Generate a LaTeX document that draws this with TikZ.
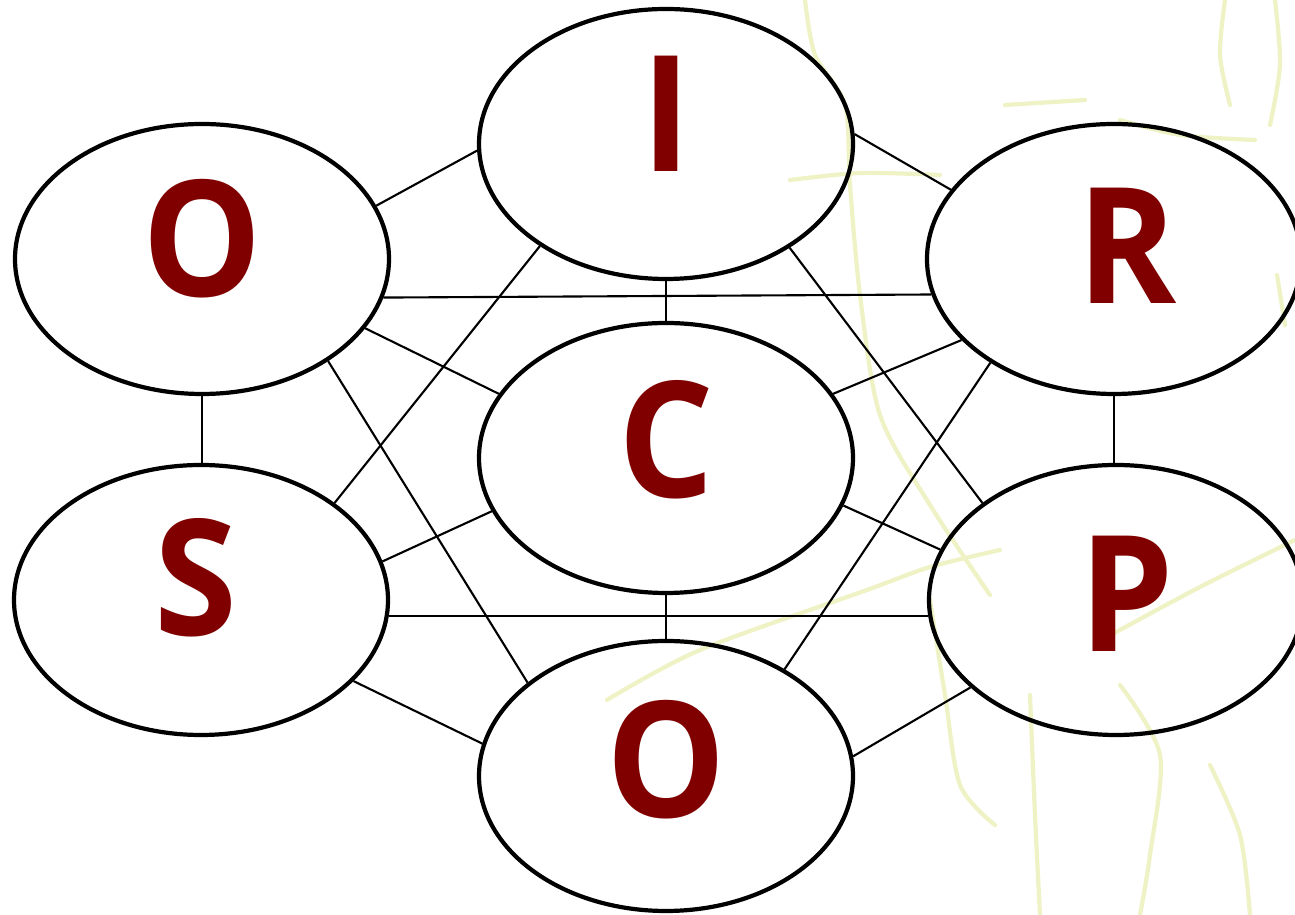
\documentclass[tikz,border=0pt]{standalone}
\usepackage{fontspec}
\newfontfamily\lettrfont[FakeStretch=0.93]{Open Sans}
\usetikzlibrary{shapes.geometric}
\definecolor{maroon}{RGB}{128,0,0}
\definecolor{sketch}{RGB}{238,242,196}

\begin{document}
\begin{tikzpicture}
		\useasboundingbox (0,0) rectangle (12.95,9.15);
		% faint pencil sketch in the background
		\begin{scope}[every path/.style={draw=sketch, line width=1.2pt, line cap=round}]
			\draw plot[smooth] coordinates {(8.05,9.15) (8.15,8.6) (8.45,8.1) (8.5,7.3) (8.6,6.2) (8.8,5.0) (9.3,4.1) (9.9,3.2)};
			\draw plot[smooth] coordinates {(7.9,7.35) (8.6,7.42) (9.4,7.4)};
			\draw (10.05,8.1) -- (10.85,8.15);
			\draw plot[smooth] coordinates {(11.2,7.95) (11.8,7.8) (12.55,7.75)};
			\draw plot[smooth] coordinates {(12.25,9.15) (12.2,8.6) (12.3,8.1)};
			\draw plot[smooth] coordinates {(12.75,9.15) (12.8,8.5) (12.7,7.9)};
			\draw (12.77,6.4) -- (12.85,5.9);
			\draw plot[smooth] coordinates {(6.07,2.15) (7.0,2.65) (8.67,3.25) (9.3,3.48) (10.0,3.65)};
			\draw plot[smooth] coordinates {(11.07,2.78) (12.0,3.28) (12.95,3.75)};
			\draw plot[smooth] coordinates {(9.3,3.15) (9.45,2.2) (9.6,1.3) (9.95,0.9)};
			\draw plot[smooth] coordinates {(10.3,2.2) (10.35,1.0) (10.4,0)};
			\draw plot[smooth] coordinates {(11.2,2.3) (11.6,1.6) (11.5,0.6) (11.4,0)};
			\draw plot[smooth] coordinates {(12.1,1.5) (12.4,0.8) (12.5,0)};
		\end{scope}
		\begin{scope}[every node/.style={draw, ellipse, line width=1.2pt, minimum width=3.74cm, minimum height=2.70cm, inner sep=0pt},
			every label/.style={draw=none, rectangle, minimum size=0pt, inner sep=0pt, text=maroon, font=\lettrfont\bfseries\fontsize{46}{50}\selectfont}]
			\node (O1)[label={[yshift=2mm]center:O}] at (2.02,6.56) {};
			\node (I)[label={[yshift=3mm]center:I}] at (6.66,7.71) {};
			\node (R)[label={[xshift=1.3mm, yshift=1.3mm]center:R}] at (11.14,6.56) {};
			\node (S)[label={[xshift=-0.5mm, yshift=2.2mm]center:S}] at (2.01,3.15) {};
			\node (C)[label={[yshift=1.8mm]center:C}] at (6.66,4.57) {};
			\node (P)[label={[xshift=1.1mm, yshift=0.6mm]center:P}] at (11.16,3.15) {};
			\node (O2)[label={[yshift=1.6mm]center:O}] at (6.66,1.39) {};
		\end{scope}
		\begin{scope}[every edge/.style={draw, line width=0.6pt}]
			\path [-] (O1.17) edge (I.182);
			\path [-] (I.3) edge (R.157);
			\path [-] (O1.-12) edge (R.191);
			\path [-] (I.south) edge (C.north);
			\path [-] (O1.-23) edge (C.159);
			\path [-] (I.219) edge (S.36);
			\path [-] (O1.-39) edge (O2.146);
			\path [-] (I.-40) edge (P.144);
			\path [-] (R.208) edge (C.21);
			\path [-] (R.220) edge (O2.42);
			\path [-] (O1.south) edge (O1.south |- S.north);
			\path [-] (R.south) edge (R.south |- P.north);
			\path [-] (S.12) edge (C.197);
			\path [-] (C.-15) edge (P.164);
			\path [-] (S.-5) edge (P.185);
			\path [-] (C.south) edge (O2.north);
			\path [-] (S.-28) edge (O2.170);
			\path [-] (P.211) edge (O2.6);
		\end{scope}
	\end{tikzpicture}
\end{document}
